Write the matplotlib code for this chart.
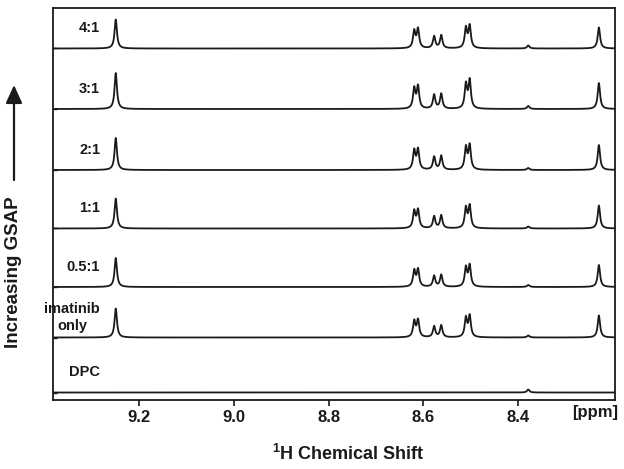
import numpy as np
import matplotlib
matplotlib.use('Agg')
import matplotlib.pyplot as plt
from matplotlib.patches import FancyArrowPatch

plt.rcParams['font.family'] = ['Liberation Sans', 'DejaVu Sans']
plt.rcParams['font.weight'] = 'bold'
plt.rcParams['mathtext.fontset'] = 'custom'
plt.rcParams['mathtext.bf'] = 'Liberation Sans:bold'
plt.rcParams['mathtext.rm'] = 'Liberation Sans:bold'

# peak positions (ppm)
peak_ppm = [9.249, 8.6195, 8.6115, 8.5775, 8.5625, 8.5105, 8.5025, 8.379, 8.230]

# series labels, top to bottom
labels = ['4:1', '3:1', '2:1', '1:1', '0.5:1', 'imatinib\nonly', 'DPC']

# visible peak heights of each trace (same order as peak_ppm)
heights = [
    [29, 17, 19, 12, 13, 20, 22, 3, 21],
    [36, 20, 22, 14, 15, 24, 28, 3, 26],
    [32, 19, 20, 13, 14, 22, 24, 2, 25],
    [30, 17, 18, 12, 13, 20, 22, 2, 23],
    [29, 16, 17, 11, 12, 19, 21, 2, 22],
    [29, 16, 17, 11, 12, 19, 21, 2, 22],
    [0, 0, 0, 0, 0, 0, 0, 3, 0],
]

# vertical position of each baseline
offsets = [351.5, 291, 230, 171.5, 113, 62.5, 7.5]

ppm = np.linspace(9.39, 8.19, 5000)
fwhm = 0.006
col = '#1a1a1a'

fig = plt.figure(figsize=(6.24, 4.69), dpi=100)
ax = fig.add_axes([52.7/624, 1-400/469, (615-52.7)/624, (400-8.3)/469])

for lab, hs, off in zip(labels, heights, offsets):
    y = np.zeros_like(ppm)
    for p, h in zip(peak_ppm, hs):
        y += h / (1 + (2*(ppm - p)/fwhm)**2)
    ax.plot(ppm, y + off, color=col, lw=1.3)
    ax.text(9.282, off + 20, lab, ha='right', va='center', fontsize=10.5,
            fontweight='bold', color=col, linespacing=1.35,
            multialignment='center')

ax.set_xlim(9.382, 8.196)
ax.set_ylim(0, 391.7)
ax.set_xticks([9.2, 9.0, 8.8, 8.6, 8.4])
ax.set_xticklabels(['9.2', '9.0', '8.8', '8.6', '8.4'])
ax.set_yticks(offsets)
ax.set_yticklabels([])
ax.tick_params(axis='x', direction='out', length=4, width=1.2, pad=3,
               labelsize=12, colors=col)
ax.tick_params(axis='y', direction='in', length=3, width=1.0, colors=col)
for s in ax.spines.values():
    s.set_linewidth(1.3)
    s.set_color(col)

ax.text((595-52.7)/562.3, -0.012, '[ppm]', transform=ax.transAxes,
        ha='center', va='top', fontsize=12, fontweight='bold', color=col)

fig.text(348/624, 1-454/469, r'$^{\mathbf{1}}$H Chemical Shift', ha='center',
         va='center', fontsize=13, fontweight='bold', color=col)

fig.text(14/624, 1-272/469, 'Increasing GSAP', rotation=90, ha='center',
         va='center', fontsize=13.5, fontweight='bold', color=col)
arr = FancyArrowPatch((14, 469-180), (14, 469-85), transform=None,
                      arrowstyle='-|>,head_length=1.1,head_width=0.5',
                      mutation_scale=10, lw=1.6, color=col,
                      shrinkA=0, shrinkB=0)
fig.patches.append(arr)

fig.savefig('out.png', dpi=100)
